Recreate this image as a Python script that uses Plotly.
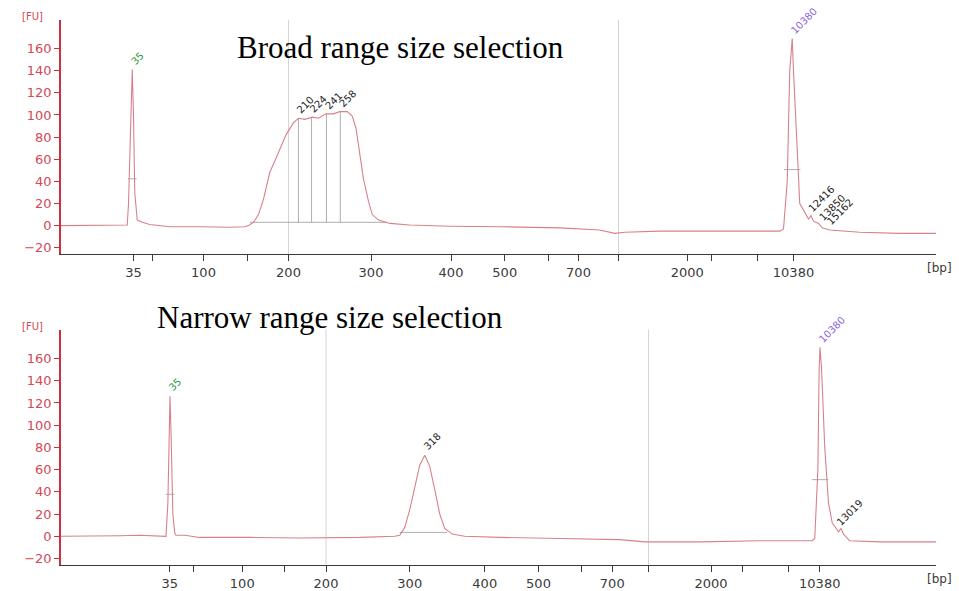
import numpy as np
import plotly.graph_objects as go

# ---- ladder: fragment size (bp) and migration time (s) for each run ----
ladder_bp = [35, 50, 100, 150, 200, 300, 400, 500, 600, 700, 1000, 2000, 3000, 7000, 10380]
ladder_label = ["35", "", "100", "", "200", "300", "400", "500", "", "700", "", "2000", "", "", "10380"]
ladder_t_broad = [45.8, 47.3, 51.4, 54.9, 58.2, 64.8, 71.2, 75.5, 79.0, 81.4, 84.6, 90.1, 92.0, 95.7, 98.6]
ladder_t_narrow = [48.7, 50.6, 54.5, 57.9, 61.2, 67.9, 73.9, 78.2, 81.6, 84.1, 87.0, 92.0, 94.5, 98.2, 100.7]
grid_bp = [200, 1000]

# ---- electropherogram traces: time (s), fluorescence (FU) ----
broad_t = [40.0, 43.1, 44.7, 45.3, 45.4, 45.6, 45.7, 45.8, 45.9, 46.1, 46.5, 47.1, 48.7, 51.1, 53.5,
           54.7, 55.0, 55.4, 55.8, 56.2, 56.7, 57.4, 58.0, 58.6, 59.0, 59.5, 60.1, 60.6, 61.2, 61.8,
           62.3, 62.9, 63.3, 63.6, 63.9, 64.2, 64.6, 64.9, 65.4, 66.3, 67.9, 71.1, 75.1, 79.9, 83.1,
           84.3, 85.1, 87.9, 91.1, 95.9, 97.5, 97.8, 98.1, 98.3, 98.5, 98.6, 98.9, 99.1, 99.4, 99.5,
           99.8, 100.0, 100.2, 100.6, 100.9, 101.5, 103.9, 107.1, 110.0]
broad_fu = [0, 0, 0, 0.5, 20, 100, 141, 100, 30, 5, 3, 1, -1, -1, -1.5,
            -1, 0, 3, 10, 24, 48, 66, 82, 93, 97, 96, 98, 97, 101, 101,
            103, 103, 99, 88, 65, 42, 22, 10, 5, 2, 0.5, -0.5, -1, -2, -4,
            -7, -6, -5, -5, -5, -5, -3, 40, 140, 169, 140, 60, 20, 14, 12,
            6, 9, 4, 2, -2, -4, -6, -7, -7]

narrow_t = [40.0, 43.1, 44.7, 46.3, 47.9, 48.4, 48.55, 48.65, 48.72, 48.8, 48.95, 49.1, 49.2, 49.9, 51.1,
            55.1, 59.1, 63.9, 66.7, 67.1, 67.5, 67.9, 68.3, 68.7, 69.1, 69.5, 69.9, 70.3, 70.7, 71.3,
            72.3, 75.1, 79.9, 84.7, 86.7, 87.9, 91.1, 95.9, 99.1, 100.1, 100.3, 100.55, 100.65, 100.72,
            100.85, 101.1, 101.4, 101.7, 101.9, 102.2, 102.4, 102.6, 103.1, 105.5, 110.0]
narrow_fu = [0, 0, 0.5, 1, 0, 0, 30, 100, 126, 95, 20, 3, 1, 1, -1,
             -1, -1.5, -1, 0, 1, 8, 24, 45, 64, 73, 63, 42, 20, 7, 2,
             0, -1, -2, -3, -5, -5, -5, -4, -4, -4, -2, 60, 150, 170,
             150, 80, 30, 12, 9, 4, 7, 2, -4, -5, -5]

# ---- called peaks (bp) ----
broad_marker_bp = [35, 10380]
broad_peak_bp = [210, 224, 241, 258]
broad_minor_bp = [12416, 13850, 15162]
narrow_marker_bp = [35, 10380]
narrow_peak_bp = [318]
narrow_minor_bp = [13019]

# integration baselines: (start s, end s, FU)
broad_region = (55.1, 66.1, 3)
narrow_region = (67.1, 70.9, 3.5)

TRACE = "#d8818a"
AXIS_RED = "#cc3040"
TICK_RED = "#d24a55"
DARK = "#3a3a3a"
GRID = "#d4d4d4"
MARK = "#9a9a9a"

X_DOM = [61 / 959, 936 / 959]
PANELS = [
    dict(name="broad", dom=[1 - 257 / 591, 1 - 20 / 591], lt=ladder_t_broad, t=broad_t, fu=broad_fu,
         mk=broad_marker_bp, pk=broad_peak_bp, mn=broad_minor_bp, reg=broad_region,
         title="Broad range size selection", title_xy=(400, 48)),
    dict(name="narrow", dom=[1 - 571 / 591, 1 - 333 / 591], lt=ladder_t_narrow, t=narrow_t, fu=narrow_fu,
         mk=narrow_marker_bp, pk=narrow_peak_bp, mn=narrow_minor_bp, reg=narrow_region,
         title="Narrow range size selection", title_xy=(330, 321)),
]
Y_RANGE = [-26, 186]


def bp_to_time(bp, lt):
    """Log-linear interpolation along the ladder, extrapolated past the last step."""
    lb = np.log(np.array(ladder_bp, float))
    lt = np.array(lt, float)
    x = np.log(np.atleast_1d(np.array(bp, float)))
    out = np.interp(x, lb, lt)
    slope = (lt[-1] - lt[-2]) / (lb[-1] - lb[-2])
    hi = x > lb[-1]
    out[hi] = lt[-1] + (x[hi] - lb[-1]) * slope
    return out


fig = go.Figure()
annotations = []
shapes = []

for i, p in enumerate(PANELS):
    xa = "x" if i == 0 else "x2"
    ya = "y" if i == 0 else "y2"
    t = np.array(p["t"])
    fu = np.array(p["fu"])

    def height_at(tt):
        return np.interp(tt, t, fu)

    def apex(tt, win=0.4):
        sel = (t >= tt - win) & (t <= tt + win)
        if sel.any():
            k = np.argmax(np.where(sel, fu, -np.inf))
            return float(t[k]), float(fu[k])
        return float(tt), float(height_at(tt))

    # integration baseline of the fragment region
    r0, r1, rb = p["reg"]
    fig.add_trace(go.Scatter(x=[r0, r1], y=[rb, rb], mode="lines", xaxis=xa, yaxis=ya,
                             line=dict(color=MARK, width=0.8), hoverinfo="skip", showlegend=False))

    # peak boundary lines for the called fragment peaks
    pt = bp_to_time(p["pk"], p["lt"])
    vx, vy = [], []
    for tt in pt:
        vx += [tt, tt, None]
        vy += [rb, float(height_at(tt)), None]
    if len(pt) > 1:
        fig.add_trace(go.Scatter(x=vx, y=vy, mode="lines", xaxis=xa, yaxis=ya,
                                 line=dict(color=MARK, width=0.8), hoverinfo="skip", showlegend=False))

    # half-height width marks on the markers
    hx, hy = [], []
    for tt in bp_to_time(p["mk"], p["lt"]):
        at, ah = apex(tt)
        w = 0.7 if tt < 52 else 1.3
        hx += [at - w / 2, at + w / 2, None]
        hy += [ah * 0.3, ah * 0.3, None]
    fig.add_trace(go.Scatter(x=hx, y=hy, mode="lines", xaxis=xa, yaxis=ya,
                             line=dict(color=MARK, width=0.8), hoverinfo="skip", showlegend=False))

    # the electropherogram
    fig.add_trace(go.Scatter(x=t, y=fu, mode="lines", xaxis=xa, yaxis=ya,
                             line=dict(color=TRACE, width=1.1), showlegend=False))

    # light grid lines at selected ladder sizes
    for gt in bp_to_time(grid_bp, p["lt"]):
        shapes.append(dict(type="line", xref=xa, yref=f"{ya} domain", x0=gt, x1=gt, y0=0, y1=1,
                           line=dict(color=GRID, width=1), layer="below"))

    # peak labels
    def label(bp, color, use_apex=True, size=10):
        tt = float(bp_to_time([bp], p["lt"])[0])
        if use_apex:
            tt, h = apex(tt)
        else:
            h = float(height_at(tt))
        annotations.append(dict(x=tt, y=h, xref=xa, yref=ya, text=str(bp), showarrow=False,
                                textangle=-45, xanchor="left", yanchor="bottom", xshift=-6, yshift=0,
                                font=dict(family="DejaVu Sans", size=size, color=color)))

    label(p["mk"][0], "#2e9a3c")
    label(p["mk"][1], "#8a62e0")
    for bp in p["pk"]:
        label(bp, "#222222", use_apex=len(p["pk"]) == 1)
    for bp in p["mn"]:
        label(bp, "#222222", use_apex=False)

    # axis unit labels
    yb = p["dom"][1]
    annotations.append(dict(x=45 / 959, y=yb + 3 / 591, xref="paper", yref="paper", text="[FU]",
                            showarrow=False, xanchor="right", yanchor="middle",
                            font=dict(family="DejaVu Sans", size=10, color=TICK_RED)))
    annotations.append(dict(x=954 / 959, y=p["dom"][0] - 14 / 591, xref="paper", yref="paper",
                            text="[bp]", showarrow=False, xanchor="right", yanchor="middle",
                            font=dict(family="DejaVu Sans", size=12, color=DARK)))
    tx, ty = p["title_xy"]
    annotations.append(dict(x=tx / 959, y=1 - ty / 591, xref="paper", yref="paper", text=p["title"],
                            showarrow=False, xanchor="center", yanchor="middle",
                            font=dict(family="Liberation Serif", size=31, color="#000000")))

xaxis_common = dict(range=[40, 110], domain=X_DOM, showgrid=False, zeroline=False, showline=True,
                    linecolor=DARK, linewidth=1.2, ticks="outside", ticklen=6, tickcolor=DARK,
                    tickfont=dict(family="DejaVu Sans", size=13, color=DARK), fixedrange=True)
yaxis_common = dict(range=Y_RANGE, showgrid=False, zeroline=False, showline=True,
                    linecolor=AXIS_RED, linewidth=1.6, ticks="outside", ticklen=5, tickcolor=AXIS_RED,
                    tickvals=list(range(-20, 161, 20)),
                    tickfont=dict(family="DejaVu Sans", size=13, color=TICK_RED), fixedrange=True)

fig.update_layout(
    width=959, height=591, margin=dict(l=0, r=0, t=0, b=0),
    paper_bgcolor="white", plot_bgcolor="white",
    xaxis=dict(xaxis_common, anchor="y", tickvals=ladder_t_broad, ticktext=ladder_label),
    yaxis=dict(yaxis_common, domain=PANELS[0]["dom"], anchor="x"),
    xaxis2=dict(xaxis_common, anchor="y2", tickvals=ladder_t_narrow, ticktext=ladder_label),
    yaxis2=dict(yaxis_common, domain=PANELS[1]["dom"], anchor="x2"),
    annotations=annotations, shapes=shapes,
)

fig.write_html("out.html")
